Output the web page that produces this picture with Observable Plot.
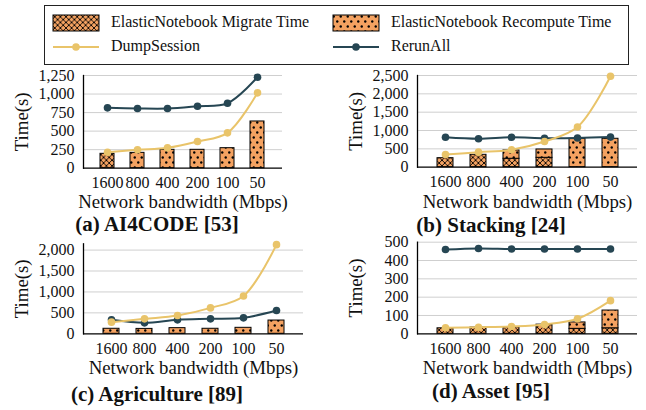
<!DOCTYPE html>
<html><head><meta charset="utf-8">
<script src="https://cdn.jsdelivr.net/npm/d3@7"></script>
<script src="https://cdn.jsdelivr.net/npm/@observablehq/plot@0.6"></script>
<style>
body{margin:0;background:#fff;}
#root{position:relative;width:646px;height:410px;font-family:"Liberation Serif",serif;color:#111;overflow:hidden;background:#fff}
#root svg, #root svg text{font-family:"Liberation Serif",serif !important;}
.cap{position:absolute;font-weight:bold;font-size:21px;white-space:nowrap;transform:translate(-50%,-50%);line-height:0.75;font-family:"Liberation Serif",serif}
.lt{position:absolute;font-size:16px;white-space:nowrap;transform:translateY(-50%);line-height:1;font-family:"Liberation Serif",serif}
.sw{position:absolute}
</style></head><body>
<svg width="0" height="0" style="position:absolute"><defs>
<pattern id="xhatch" patternUnits="userSpaceOnUse" width="5.6" height="5.6">
 <rect width="5.6" height="5.6" fill="#F4A261"/>
 <path d="M0,0L5.6,5.6M5.6,0L0,5.6" stroke="#000" stroke-width="0.9"/>
</pattern>
<pattern id="dots" patternUnits="userSpaceOnUse" width="7" height="10">
 <rect width="7" height="10" fill="#F4A261"/>
 <circle cx="1.75" cy="2.5" r="1.2" fill="#000"/><circle cx="5.25" cy="7.5" r="1.2" fill="#000"/>
</pattern>
</defs></svg>
<div id="root"></div>
<script>
// ---- data ----
const bandwidths = ["1600","800","400","200","100","50"];

const ai4codeMigrate   = [194, 0, 0, 0, 0, 0];
const ai4codeRecompute = [0, 207, 248, 248, 270, 630];
const ai4codeDump      = [216, 248, 275, 360, 477, 1016];
const ai4codeRerun     = [814, 806, 805, 836, 876, 1227];

const stackingMigrate   = [246, 338, 230, 256, 0, 0];
const stackingRecompute = [0, 0, 226, 227, 775, 775];
const stackingDump      = [345, 410, 475, 701, 1095, 2480];
const stackingRerun     = [815, 775, 815, 790, 795, 820];

const agricultureMigrate   = [0, 0, 0, 0, 0, 0];
const agricultureRecompute = [120, 117, 135, 120, 143, 317];
const agricultureDump      = [278, 357, 436, 619, 904, 2130];
const agricultureRerun     = [333, 262, 333, 357, 381, 555];

const assetMigrate   = [30, 34, 35, 50, 27, 30];
const assetRecompute = [0, 0, 0, 0, 35, 97];
const assetDump      = [33, 36, 40, 51, 82, 181];
const assetRerun     = [460, 466, 463, 463, 463, 463];

const ticksA = [0, 250, 500, 750, 1000, 1250];
const ticksB = [0, 500, 1000, 1500, 2000, 2500];
const ticksC = [0, 500, 1000, 1500, 2000];
const ticksD = [0, 100, 200, 300, 400, 500];

const xTitle = "Network bandwidth (Mbps)";
const yTitle = "Time(s)";
const captions = ["(a) AI4CODE [53]", "(b) Stacking [24]", "(c) Agriculture [89]", "(d) Asset [95]"];
const legendLabels = ["ElasticNotebook Migrate Time", "ElasticNotebook Recompute Time", "DumpSession", "RerunAll"];

const C_BAR = "#F4A261", C_DUMP = "#E9C46A", C_RERUN = "#264653";

const root = document.getElementById("root");

function place(el, left, top) {
  el.style.position = "absolute";
  el.style.left = left + "px";
  el.style.top = top + "px";
  root.appendChild(el);
}

function panel(o) {
  const bars = [];
  bandwidths.forEach((b, i) => {
    bars.push({bw: b, kind: "m", v: o.migrate[i]});
    bars.push({bw: b, kind: "r", v: o.recompute[i]});
  });
  const pts = bandwidths.map((b, i) => ({bw: b, dump: o.dump[i], rerun: o.rerun[i]}));
  const chart = Plot.plot({
    width: o.width, height: o.height,
    marginLeft: o.mL, marginRight: o.width - o.mL - o.fw, marginTop: o.mT, marginBottom: o.height - o.mT - o.fh,
    style: {fontFamily: "Liberation Serif", fontSize: "16px", color: "#111", background: "transparent", overflow: "visible"},
    x: {type: "band", domain: bandwidths, padding: 0.52},
    y: {domain: o.yDomain},
    color: {type: "identity"},
    marks: [
      Plot.gridY(o.ticks.filter(t => t > 0), {stroke: "#cfcfcf", strokeOpacity: 1, strokeWidth: 1}),
      Plot.barY(bars.filter(d => d.v > 0), {x: "bw", y: "v", fill: d => d.kind === "m" ? "url(#xhatch)" : "url(#dots)", stroke: "#000", strokeWidth: 1}),
      Plot.line(pts, {x: "bw", y: "rerun", stroke: C_RERUN, strokeWidth: 2, curve: "catmull-rom"}),
      Plot.dot(pts, {x: "bw", y: "rerun", fill: C_RERUN, r: 3.8}),
      Plot.line(pts, {x: "bw", y: "dump", stroke: C_DUMP, strokeWidth: 2, curve: "catmull-rom"}),
      Plot.dot(pts, {x: "bw", y: "dump", fill: C_DUMP, r: 3.8}),
      Plot.axisX({tickSize: 0, tickPadding: 8.5, label: null}),
      Plot.axisY(o.ticks, {tickSize: 0, tickPadding: 9, tickFormat: d3.format(","), label: null}),
      Plot.text([xTitle], {text: d => d, frameAnchor: "bottom", textAnchor: "middle", lineAnchor: "bottom", dy: o.xlo, fontSize: 18.8, fill: "#111"}),
      Plot.text([yTitle], {text: d => d, frameAnchor: "left", textAnchor: "middle", lineAnchor: "top", rotate: -90, dx: -69, fontSize: 18.8, fill: "#111"}),
      Plot.ruleY([0], {stroke: "#000", strokeWidth: 1.3}),
      Plot.frame({anchor: "left", stroke: "#000", strokeWidth: 1.3})
    ]
  });
  place(chart, o.left, o.top);
  const cap = document.createElement("div");
  cap.className = "cap";
  cap.textContent = o.caption;
  place(cap, o.cx, o.cy);
}

panel({left: 0, top: 65, width: 305, height: 150, mL: 83, fw: 199, mT: 10, fh: 92.7, yDomain: [0, 1250], ticks: ticksA, xlo: 39.5,
  migrate: ai4codeMigrate, recompute: ai4codeRecompute, dump: ai4codeDump, rerun: ai4codeRerun, caption: captions[0], cx: 157, cy: 225});
panel({left: 330, top: 65, width: 316, height: 150, mL: 87, fw: 220, mT: 10, fh: 91.7, yDomain: [0, 2500], ticks: ticksB, xlo: 41,
  migrate: stackingMigrate, recompute: stackingRecompute, dump: stackingDump, rerun: stackingRerun, caption: captions[1], cx: 491, cy: 225.5});
panel({left: 0, top: 233, width: 320, height: 150, mL: 83, fw: 220, mT: 10.3, fh: 90, yDomain: [0, 2150], ticks: ticksC, xlo: 40.5,
  migrate: agricultureMigrate, recompute: agricultureRecompute, dump: agricultureDump, rerun: agricultureRerun, caption: captions[2], cx: 157, cy: 394.5});
panel({left: 330, top: 232, width: 316, height: 150, mL: 87, fw: 220, mT: 9.7, fh: 91.6, yDomain: [0, 500], ticks: ticksD, xlo: 40.5,
  migrate: assetMigrate, recompute: assetRecompute, dump: assetDump, rerun: assetRerun, caption: captions[3], cx: 491, cy: 392});

// ---- legend ----
const box = document.createElement("div");
box.style.cssText = "width:585px;height:60px;border:1.4px solid #222;box-sizing:border-box;";
place(box, 44, 5);
const NS = "http://www.w3.org/2000/svg";
function swatch(kind, left, top) {
  const s = document.createElementNS(NS, "svg");
  s.setAttribute("width", 48); s.setAttribute("height", 18);
  s.setAttribute("class", "sw");
  if (kind === "xhatch" || kind === "dots") {
    s.innerHTML = `<rect x="1" y="1" width="46" height="16" fill="url(#${kind})" stroke="#000" stroke-width="1"/>`;
  } else {
    const c = kind === "dump" ? C_DUMP : C_RERUN;
    s.innerHTML = `<line x1="1" x2="47" y1="9" y2="9" stroke="${c}" stroke-width="2"/><circle cx="24" cy="9" r="3.8" fill="${c}"/>`;
  }
  place(s, left, top);
}
function ltext(t, left, cy) {
  const d = document.createElement("div");
  d.className = "lt"; d.textContent = t;
  place(d, left, cy);
}
swatch("xhatch", 52, 14); ltext(legendLabels[0], 111, 21.5);
swatch("dots", 332, 14); ltext(legendLabels[1], 391, 21.5);
swatch("dump", 52, 37.7); ltext(legendLabels[2], 111, 46.3);
swatch("rerun", 332, 37.7); ltext(legendLabels[3], 391, 46.3);
</script>
</body></html>
